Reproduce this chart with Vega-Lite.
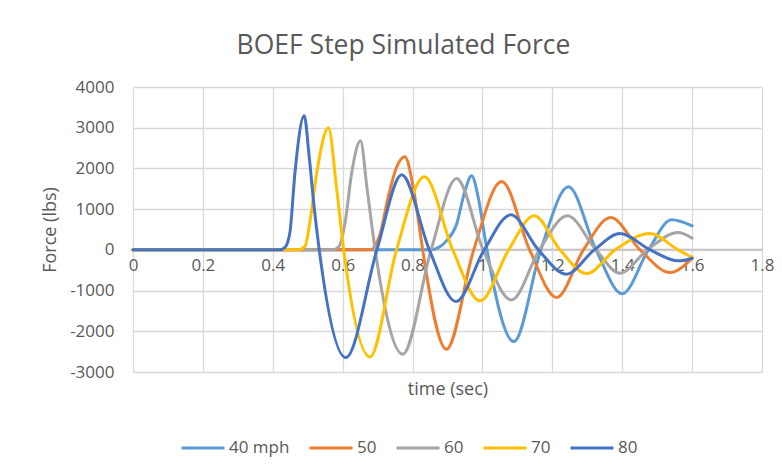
{
  "$schema": "https://vega.github.io/schema/vega-lite/v6.json",
  "width": 629,
  "height": 285,
  "autosize": {"type": "none"},
  "padding": {"left": 133, "top": 87, "right": 20, "bottom": 100},
  "background": "white",
  "title": {
    "text": "BOEF Step Simulated Force",
    "font": "Open Sans",
    "fontSize": 26.5,
    "fontWeight": "normal",
    "color": "#595959",
    "anchor": "middle",
    "dx": -44,
    "offset": 19
  },
  "config": {
    "view": {"stroke": null},
    "axis": {
      "labelFont": "Open Sans",
      "labelFontSize": 17,
      "labelColor": "#595959",
      "titleFont": "Open Sans",
      "titleFontSize": 18,
      "titleFontWeight": "normal",
      "titleColor": "#595959",
      "gridColor": "#d9d9d9",
      "gridWidth": 1.3,
      "ticks": false
    },
    "legend": {
      "labelFont": "Open Sans",
      "labelFontSize": 17,
      "labelColor": "#595959"
    }
  },
  "data": {
    "values": [
      {"series": "40 mph", "t": 0, "force": 0},
      {"series": "40 mph", "t": 0.85, "force": 0},
      {"series": "40 mph", "t": 0.875, "force": 60},
      {"series": "40 mph", "t": 0.897, "force": 221},
      {"series": "40 mph", "t": 0.926, "force": 631},
      {"series": "40 mph", "t": 0.95, "force": 1450},
      {"series": "40 mph", "t": 0.969, "force": 1818},
      {"series": "40 mph", "t": 0.988, "force": 1285},
      {"series": "40 mph", "t": 1.007, "force": 302},
      {"series": "40 mph", "t": 1.013, "force": 0},
      {"series": "40 mph", "t": 1.09, "force": -2252},
      {"series": "40 mph", "t": 1.167, "force": 0},
      {"series": "40 mph", "t": 1.246, "force": 1548},
      {"series": "40 mph", "t": 1.325, "force": 0},
      {"series": "40 mph", "t": 1.4, "force": -1080},
      {"series": "40 mph", "t": 1.475, "force": 0},
      {"series": "40 mph", "t": 1.541, "force": 737},
      {"series": "40 mph", "t": 1.6, "force": 590},

      {"series": "50", "t": 0, "force": 0},
      {"series": "50", "t": 0.68, "force": 0},
      {"series": "50", "t": 0.697, "force": 170},
      {"series": "50", "t": 0.707, "force": 385},
      {"series": "50", "t": 0.73, "force": 1285},
      {"series": "50", "t": 0.754, "force": 2022},
      {"series": "50", "t": 0.778, "force": 2285},
      {"series": "50", "t": 0.802, "force": 1531},
      {"series": "50", "t": 0.821, "force": 467},
      {"series": "50", "t": 0.829, "force": 0},
      {"series": "50", "t": 0.897, "force": -2440},
      {"series": "50", "t": 0.975, "force": 0},
      {"series": "50", "t": 1.055, "force": 1679},
      {"series": "50", "t": 1.135, "force": 0},
      {"series": "50", "t": 1.212, "force": -1171},
      {"series": "50", "t": 1.289, "force": 0},
      {"series": "50", "t": 1.367, "force": 794},
      {"series": "50", "t": 1.451, "force": 0},
      {"series": "50", "t": 1.537, "force": -557},
      {"series": "50", "t": 1.6, "force": -205},

      {"series": "60", "t": 0, "force": 0},
      {"series": "60", "t": 0.57, "force": 0},
      {"series": "60", "t": 0.59, "force": 90},
      {"series": "60", "t": 0.607, "force": 671},
      {"series": "60", "t": 0.626, "force": 1900},
      {"series": "60", "t": 0.651, "force": 2678},
      {"series": "60", "t": 0.67, "force": 1491},
      {"series": "60", "t": 0.693, "force": 0},
      {"series": "60", "t": 0.772, "force": -2563},
      {"series": "60", "t": 0.853, "force": 0},
      {"series": "60", "t": 0.926, "force": 1752},
      {"series": "60", "t": 1.002, "force": 0},
      {"series": "60", "t": 1.083, "force": -1229},
      {"series": "60", "t": 1.163, "force": 0},
      {"series": "60", "t": 1.243, "force": 835},
      {"series": "60", "t": 1.325, "force": 0},
      {"series": "60", "t": 1.393, "force": -574},
      {"series": "60", "t": 1.472, "force": 0},
      {"series": "60", "t": 1.56, "force": 426},
      {"series": "60", "t": 1.6, "force": 287},

      {"series": "70", "t": 0, "force": 0},
      {"series": "70", "t": 0.475, "force": 0},
      {"series": "70", "t": 0.493, "force": 100},
      {"series": "70", "t": 0.506, "force": 671},
      {"series": "70", "t": 0.526, "force": 1900},
      {"series": "70", "t": 0.559, "force": 3000},
      {"series": "70", "t": 0.583, "force": 1491},
      {"series": "70", "t": 0.603, "force": 0},
      {"series": "70", "t": 0.678, "force": -2629},
      {"series": "70", "t": 0.754, "force": 0},
      {"series": "70", "t": 0.834, "force": 1794},
      {"series": "70", "t": 0.915, "force": 0},
      {"series": "70", "t": 0.993, "force": -1253},
      {"series": "70", "t": 1.075, "force": 0},
      {"series": "70", "t": 1.148, "force": 835},
      {"series": "70", "t": 1.222, "force": 0},
      {"series": "70", "t": 1.298, "force": -582},
      {"series": "70", "t": 1.38, "force": 0},
      {"series": "70", "t": 1.479, "force": 401},
      {"series": "70", "t": 1.56, "force": 0},
      {"series": "70", "t": 1.6, "force": -189},

      {"series": "80", "t": 0, "force": 0},
      {"series": "80", "t": 0.42, "force": 0},
      {"series": "80", "t": 0.435, "force": 60},
      {"series": "80", "t": 0.449, "force": 425},
      {"series": "80", "t": 0.4635, "force": 1900},
      {"series": "80", "t": 0.49, "force": 3292},
      {"series": "80", "t": 0.504, "force": 2310},
      {"series": "80", "t": 0.518, "force": 1081},
      {"series": "80", "t": 0.533, "force": 0},
      {"series": "80", "t": 0.609, "force": -2646},
      {"series": "80", "t": 0.698, "force": 0},
      {"series": "80", "t": 0.769, "force": 1843},
      {"series": "80", "t": 0.848, "force": 0},
      {"series": "80", "t": 0.924, "force": -1269},
      {"series": "80", "t": 1.005, "force": 0},
      {"series": "80", "t": 1.081, "force": 860},
      {"series": "80", "t": 1.16, "force": 0},
      {"series": "80", "t": 1.24, "force": -598},
      {"series": "80", "t": 1.32, "force": 0},
      {"series": "80", "t": 1.393, "force": 401},
      {"series": "80", "t": 1.48, "force": 0},
      {"series": "80", "t": 1.56, "force": -270},
      {"series": "80", "t": 1.6, "force": -205}
    ]
  },
  "mark": {"type": "line", "interpolate": "monotone", "strokeWidth": 3, "strokeCap": "round", "strokeJoin": "round"},
  "encoding": {
    "x": {
      "field": "t",
      "type": "quantitative",
      "scale": {"domain": [0, 1.8], "nice": false, "zero": false},
      "axis": {
        "values": [0, 0.2, 0.4, 0.6, 0.8, 1, 1.2, 1.4, 1.6, 1.8],
        "labelExpr": "'' + datum.value",
        "offset": -123,
        "domainColor": "#bfbfbf",
        "domainWidth": 1.3,
        "labelPadding": 8,
        "labelFlush": false,
        "title": "time (sec)",
        "titleY": 140,
        "titleBaseline": "middle"
      }
    },
    "y": {
      "field": "force",
      "type": "quantitative",
      "scale": {"domain": [-3000, 4000], "nice": false},
      "axis": {
        "values": [-3000, -2000, -1000, 0, 1000, 2000, 3000, 4000],
        "labelExpr": "'' + datum.value",
        "domain": false,
        "labelPadding": 19,
        "title": "Force (lbs)",
        "titleX": -83,
        "titleBaseline": "middle"
      }
    },
    "color": {
      "field": "series",
      "type": "nominal",
      "scale": {
        "domain": ["40 mph", "50", "60", "70", "80"],
        "range": ["#5B9BD5", "#ED7D31", "#A5A5A5", "#FFC000", "#4472C4"]
      },
      "legend": {
        "title": null,
        "orient": "none",
        "direction": "horizontal",
        "legendX": 47,
        "legendY": 338,
        "symbolType": "stroke",
        "symbolSize": 1849,
        "symbolStrokeWidth": 3,
        "labelOffset": 3,
        "columnPadding": 13
      }
    }
  }
}
